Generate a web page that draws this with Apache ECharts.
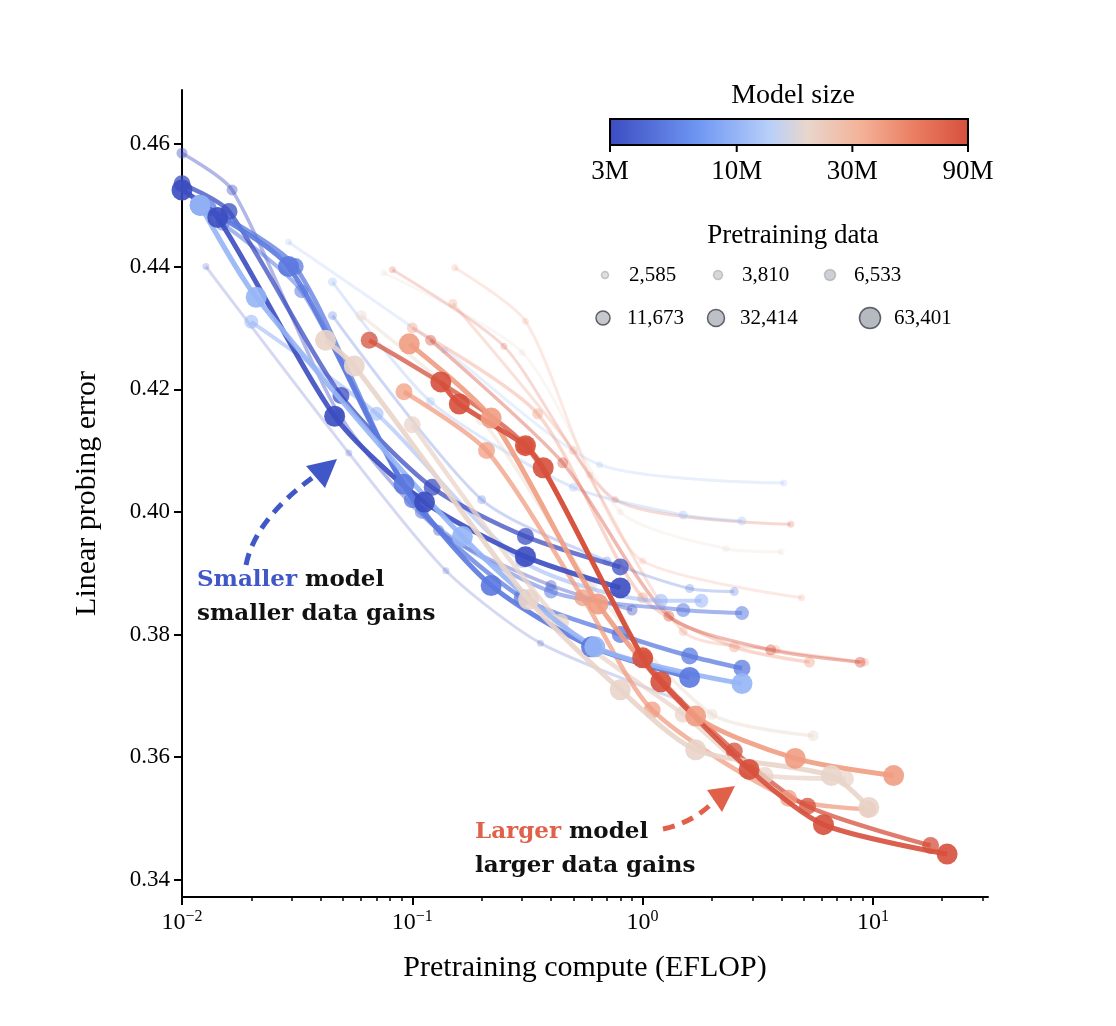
<!DOCTYPE html>
<html>
<head>
<meta charset="UTF-8">
<style>
  html, body { margin: 0; padding: 0; background: #fff; }
  #chart { width: 1116px; height: 1026px; }
</style>
<script src="https://cdn.jsdelivr.net/npm/echarts@6/dist/echarts.min.js"></script>
</head>
<body>
<div id="chart"></div>
<script>
// model sizes (M params) and pretraining data sizes
var modelSizes = [3, 5, 10, 20, 40, 90];
var dataSizes = ['2,585', '3,810', '6,533', '11,673', '32,414', '63,401'];
var markerSizes = [7, 9, 11, 14, 17, 21];
var opacities = [0.22, 0.3, 0.4, 0.55, 0.75, 0.9];
var lineWidths = [3, 3, 3.5, 4, 4.5, 5];

// one entry per curve: model index, data index, points [compute, error]
var lineModel = [0, 0, 0, 0, 1, 1, 1, 1, 2, 2, 2, 2, 3, 3, 3, 3, 4, 4, 4, 4, 4, 5, 5, 5, 5];
var lineData  = [5, 4, 2, 0, 5, 4, 3, 1, 5, 3, 1, 0, 5, 4, 2, 0, 5, 4, 2, 0, 1, 5, 4, 2, 0];
var linePoints = [
  [[0.01,0.4525],[0.0143,0.448],[0.046,0.4156],[0.113,0.4016],[0.31,0.3927],[0.8,0.3876]],
  [[0.01,0.4535],[0.016,0.449],[0.049,0.419],[0.122,0.404],[0.31,0.396],[0.8,0.391]],
  [[0.01,0.4585],[0.0165,0.4525],[0.048,0.416],[0.13,0.397],[0.4,0.388],[0.9,0.384]],
  [[0.0127,0.440],[0.053,0.4096],[0.14,0.3904],[0.36,0.3786],[1.45,0.3693]],
  [[0.012,0.450],[0.029,0.440],[0.092,0.4045],[0.22,0.388],[0.6,0.378],[1.6,0.373]],
  [[0.013,0.4495],[0.031,0.440],[0.1,0.402],[0.3,0.386],[0.8,0.380],[1.6,0.3765],[2.7,0.3745]],
  [[0.015,0.447],[0.033,0.436],[0.11,0.400],[0.4,0.387],[1.5,0.384],[2.7,0.3835]],
  [[0.045,0.432],[0.2,0.402],[0.7,0.392],[1.6,0.3875],[2.5,0.387]],
  [[0.012,0.450],[0.021,0.435],[0.165,0.396],[0.62,0.378],[2.7,0.372]],
  [[0.02,0.431],[0.07,0.416],[0.3,0.392],[1.2,0.3855],[1.8,0.3855]],
  [[0.045,0.4375],[0.12,0.418],[0.5,0.404],[1.5,0.3995],[2.7,0.3985]],
  [[0.029,0.444],[0.138,0.4264],[0.65,0.4077],[4.1,0.4047]],
  [[0.042,0.428],[0.056,0.4238],[0.32,0.3857],[0.8,0.371],[1.7,0.3612],[6.6,0.357],[9.6,0.3518]],
  [[0.1,0.4142],[0.44,0.382],[1.5,0.367],[3.4,0.357],[7.6,0.3565]],
  [[0.06,0.432],[0.2,0.415],[0.6,0.388],[2.0,0.367],[5.5,0.3635]],
  [[0.075,0.439],[0.3,0.426],[0.8,0.4],[2.3,0.394],[4.0,0.3935]],
  [[0.097,0.4274],[0.22,0.4153],[0.64,0.385],[1.7,0.3667],[4.6,0.3598],[12.3,0.357]],
  [[0.092,0.4196],[0.21,0.410],[0.55,0.386],[1.1,0.3677],[4.3,0.3533],[9.5,0.3515]],
  [[0.1,0.43],[0.35,0.416],[1.0,0.386],[2.5,0.378],[5.3,0.3755]],
  [[0.153,0.4398],[0.31,0.4311],[0.59,0.406],[1.0,0.392],[4.9,0.386]],
  [[0.15,0.434],[0.5,0.41],[1.5,0.3805],[3.8,0.3775],[9.2,0.3755]],
  [[0.133,0.4212],[0.16,0.4176],[0.31,0.4108],[0.37,0.4072],[1.0,0.3762],[1.2,0.3723],[2.9,0.358],[6.1,0.349],[21,0.3442]],
  [[0.065,0.428],[0.31,0.4108],[1.02,0.376],[2.5,0.361],[5.2,0.352],[17.8,0.3456]],
  [[0.12,0.428],[0.45,0.408],[1.3,0.383],[3.6,0.3775],[8.8,0.3755]],
  [[0.082,0.4395],[0.25,0.427],[0.76,0.402],[4.4,0.398]]
];
var yTicks = [0.34, 0.36, 0.38, 0.40, 0.42, 0.44, 0.46];
var xTicks = [0.01, 0.1, 1, 10];
var xMinorTicks = [0.02,0.03,0.04,0.05,0.06,0.07,0.08,0.09,0.2,0.3,0.4,0.5,0.6,0.7,0.8,0.9,2,3,4,5,6,7,8,9,20,30];
var cbLabels = ['3M', '10M', '30M', '90M'];
var cbValues = [3, 10, 30, 90];

// coolwarm-like colour map
var cmStops = [[0,'#3b4cc0'],[0.25,'#7097f3'],[0.45,'#b9d0f9'],[0.55,'#e8d6cc'],[0.7,'#f4b298'],[0.85,'#ea7d62'],[1,'#d6503c']];
function hex(c) { return [1,3,5].map(function (i) { return parseInt(c.substr(i, 2), 16); }); }
function cmap(t) {
  for (var i = 1; i < cmStops.length; i++) {
    if (t <= cmStops[i][0]) {
      var a = cmStops[i-1], b = cmStops[i], f = (t - a[0]) / (b[0] - a[0]);
      var ca = hex(a[1]), cb = hex(b[1]);
      return 'rgb(' + ca.map(function (v, k) { return Math.round(v + (cb[k] - v) * f); }).join(',') + ')';
    }
  }
  return cmStops[cmStops.length-1][1];
}
function modelT(m) { return (Math.log(m) - Math.log(3)) / (Math.log(90) - Math.log(3)); }

// draw faint lines first, big ones on top
var order = linePoints.map(function (_, i) { return i; })
  .sort(function (a, b) { return lineData[a] - lineData[b]; });
var series = order.map(function (i) {
  var d = lineData[i];
  var col = cmap(modelT(modelSizes[lineModel[i]]));
  return {
    type: 'line',
    data: linePoints[i],
    smooth: 0.25,
    symbol: 'circle',
    symbolSize: markerSizes[d],
    lineStyle: { color: col, width: lineWidths[d], opacity: opacities[d] },
    itemStyle: { color: col, opacity: opacities[d] },
    silent: true,
    z: 2 + d
  };
});

var serif = 'Liberation Serif';
var boldSerif = 'DejaVu Serif';
var gfx = [];
// colour bar
var cbX = 610, cbW = 358;
gfx.push({ type: 'rect', shape: { x: cbX, y: 119, width: cbW, height: 26 },
  style: { fill: new echarts.graphic.LinearGradient(0, 0, 1, 0, cmStops.map(function (s) { return { offset: s[0], color: s[1] }; })),
    stroke: '#000', lineWidth: 2 } });
gfx.push({ type: 'text', x: 793, y: 96, style: { text: 'Model size', font: '28px ' + serif, fill: '#000', align: 'center', verticalAlign: 'middle' } });
cbValues.forEach(function (v, i) {
  var px = cbX + cbW * modelT(v);
  gfx.push({ type: 'line', shape: { x1: px, y1: 145, x2: px, y2: 152 }, style: { stroke: '#000', lineWidth: 2 } });
  gfx.push({ type: 'text', x: px, y: 172, style: { text: cbLabels[i], font: '27px ' + serif, fill: '#000', align: 'center', verticalAlign: 'middle' } });
});
// data size legend
gfx.push({ type: 'text', x: 793, y: 236, style: { text: 'Pretraining data', font: '27px ' + serif, fill: '#000', align: 'center', verticalAlign: 'middle' } });
var legX = [605, 718, 830, 603, 716, 870];
var legY = [275, 275, 275, 318, 318, 318];
dataSizes.forEach(function (s, i) {
  gfx.push({ type: 'circle', shape: { cx: legX[i], cy: legY[i], r: markerSizes[i] / 2 },
    style: { fill: 'rgba(120,128,140,' + (0.25 + i * 0.06) + ')', stroke: i >= 3 ? 'rgba(60,60,70,0.8)' : 'rgba(150,150,150,0.5)', lineWidth: 1.5 } });
  gfx.push({ type: 'text', x: legX[i] + 24, y: legY[i], style: { text: s, font: '21px ' + serif, fill: '#000', verticalAlign: 'middle' } });
});
// annotations
gfx.push({ type: 'text', x: 197, y: 580, style: { rich: { c: { fill: '#4057c8', font: 'bold 23px ' + boldSerif }, k: { fill: '#111', font: 'bold 23px ' + boldSerif } },
  text: '{c|Smaller}{k| model}', verticalAlign: 'middle' } });
gfx.push({ type: 'text', x: 197, y: 614, style: { text: 'smaller data gains', font: 'bold 23px ' + boldSerif, fill: '#111', verticalAlign: 'middle' } });
gfx.push({ type: 'bezierCurve', shape: { x1: 246, y1: 565, x2: 312, y2: 478, cpx1: 255, cpy1: 520 },
  style: { stroke: '#4057c8', lineWidth: 5, lineDash: [12, 8], fill: null } });
gfx.push({ type: 'polygon', shape: { points: [[337, 459], [306, 466], [325, 488]] }, style: { fill: '#4057c8' } });
gfx.push({ type: 'text', x: 475, y: 832, style: { rich: { c: { fill: '#e0604a', font: 'bold 23px ' + boldSerif }, k: { fill: '#111', font: 'bold 23px ' + boldSerif } },
  text: '{c|Larger}{k| model}', verticalAlign: 'middle' } });
gfx.push({ type: 'text', x: 475, y: 866, style: { text: 'larger data gains', font: 'bold 23px ' + boldSerif, fill: '#111', verticalAlign: 'middle' } });
gfx.push({ type: 'bezierCurve', shape: { x1: 663, y1: 829, x2: 715, y2: 800, cpx1: 695, cpy1: 822 },
  style: { stroke: '#e0604a', lineWidth: 5, lineDash: [12, 8], fill: null } });
gfx.push({ type: 'polygon', shape: { points: [[735, 786], [707, 790], [722, 812]] }, style: { fill: '#e0604a' } });

var chart = echarts.init(document.getElementById('chart'));
chart.setOption({
  backgroundColor: '#fff',
  animation: false,
  grid: { left: 182, right: 128, top: 90, bottom: 129 },
  xAxis: [{
    type: 'log', logBase: 10, min: 0.01, max: 31.6,
    name: 'Pretraining compute (EFLOP)', nameLocation: 'middle', nameGap: 56,
    nameTextStyle: { fontFamily: serif, fontSize: 30, color: '#000' },
    axisLine: { lineStyle: { color: '#000', width: 2 } },
    axisTick: { length: 8, customValues: xTicks, lineStyle: { color: '#000', width: 2 } },
    splitLine: { show: false },
    axisLabel: {
      margin: 12, color: '#000', customValues: xTicks,
      formatter: function (v) { var e = Math.round(Math.log10(v)); return '{b|10}{s|' + (e < 0 ? '\u2212' + (-e) : e) + '}'; },
      rich: { b: { fontFamily: serif, fontSize: 24, color: '#000' }, s: { fontFamily: serif, fontSize: 16, color: '#000', verticalAlign: 'top', padding: [0, 0, 12, 0] } }
    }
  }, {
    type: 'log', logBase: 10, min: 0.01, max: 31.6, position: 'bottom',
    axisLine: { show: false },
    axisTick: { length: 4, customValues: xMinorTicks, lineStyle: { color: '#000', width: 1.5 } },
    axisLabel: { show: false },
    splitLine: { show: false }
  }],
  yAxis: {
    type: 'value', min: 0.3372, max: 0.4688,
    name: 'Linear probing error', nameLocation: 'middle', nameGap: 80,
    nameTextStyle: { fontFamily: serif, fontSize: 30, color: '#000' },
    axisLine: { show: true, lineStyle: { color: '#000', width: 2 } },
    axisTick: { show: true, length: 8, customValues: yTicks, lineStyle: { color: '#000', width: 2 } },
    splitLine: { show: false },
    axisLabel: { customValues: yTicks, formatter: function (v) { return v.toFixed(2); }, fontFamily: serif, fontSize: 23, color: '#000', margin: 12 }
  },
  series: series,
  graphic: gfx
});
</script>
</body>
</html>
